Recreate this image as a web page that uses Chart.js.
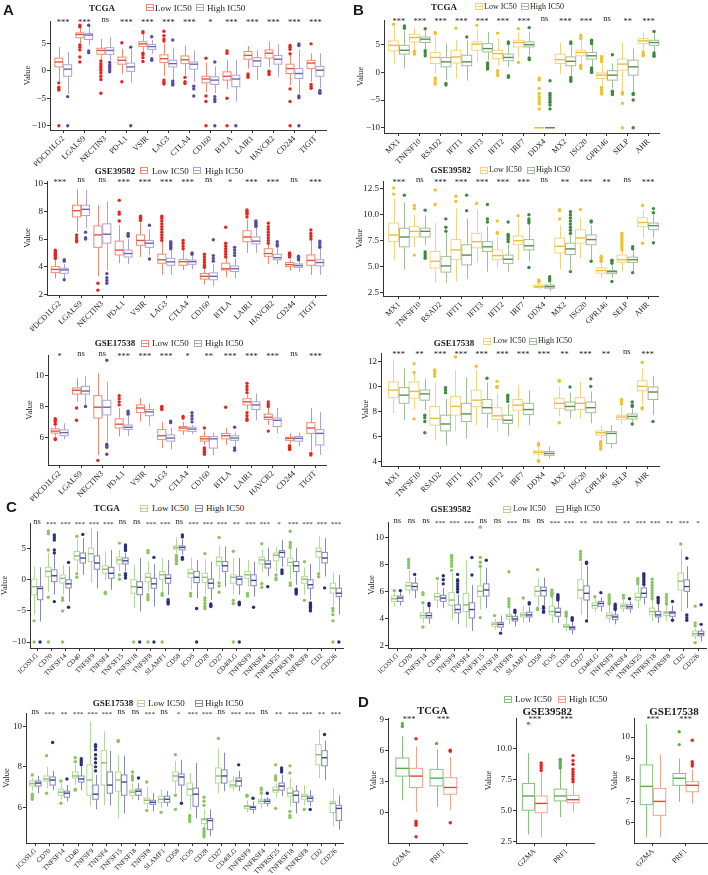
<!DOCTYPE html>
<html><head><meta charset="utf-8">
<script src="https://cdn.jsdelivr.net/npm/chart.js@4.4.1/dist/chart.umd.min.js"></script>
<style>
html,body{margin:0;padding:0;background:#fff;}
body{width:708px;height:875px;overflow:hidden;position:relative;font-family:"Liberation Serif",serif;}
canvas{position:absolute;}
.t{position:absolute;white-space:nowrap;line-height:1;color:#1a1a1a;}
</style></head><body>
<script>
// ---------- categories ----------
const genesA = ['PDCD1LG2','LGALS9','NECTIN3','PD-L1','VSIR','LAG3','CTLA4','CD160','BTLA','LAIR1','HAVCR2','CD244','TIGIT'];
const genesB = ['MX1','TNFSF10','RSAD2','IFIT1','IFIT3','IFIT2','IRF7','DDX4','MX2','ISG20','GPR146','SELP','AHR'];
const genesC = ['ICOSLG','CD70','TNFSF14','CD40','TNFSF9','TNFSF4','TNFSF15','TNFSF18','TNFSF8','SLAMF1','CD58','ICOS','CD28','CD27','CD40LG','TNFRSF9','TNFRSF4','TNFRSF25','TNFRSF18','TNFRSF8','CD2','CD226'];
const genesD = ['GZMA','PRF1'];
const groups = ['Low IC50','High IC50'];

// ---------- significance ----------
const aTcgaStars = ['***','***','ns','***','***','***','***','*','***','***','***','***','***'];
const aG39Stars  = ['***','ns','ns','***','***','***','***','ns','*','***','***','ns','***'];
const aG17Stars  = ['*','ns','ns','***','***','***','*','**','***','***','***','ns','***'];
const bTcgaStars = ['***','***','***','***','***','***','***','ns','***','***','ns','**','***'];
const bG39Stars  = ['***','ns','***','***','***','***','***','ns','**','***','**','ns','***'];
const bG17Stars  = ['***','**','***','***','***','***','***','***','**','***','**','ns','***'];
const cTcgaStars = ['ns','***','***','***','***','***','ns','ns','***','***','ns','***','***','***','**','***','***','*','***','***','***','***'];
const cG39Stars  = ['ns','ns','ns','***','***','***','ns','ns','***','ns','ns','***','***','**','***','***','**','***','***','**','***','*'];
const cG17Stars  = ['ns','***','**','***','***','***','ns','ns','***','ns','*','***','***','ns','***','***','ns','**','***','***','**','***'];
const dStars     = ['***','***'];

// ---------- box stats [min, q1, median, q3, max] and outliers ----------
// Panel A - TCGA
const aTcgaLow = [[-1.9,0.7,1.6,2.3,4.3],[5.0,6.0,6.6,6.9,7.8],[2.1,3.0,3.7,4.1,5.8],[-0.6,1.2,1.9,2.5,4.0],[3.5,4.4,4.9,5.3,6.6],[-1.0,1.5,2.2,2.9,5.0],[-0.8,1.3,2.0,2.7,4.6],[-3.9,-2.2,-1.5,-1.0,1.5],[-3.3,-1.7,-1.0,-0.2,2.0],[0.4,2.1,2.8,3.5,4.5],[0.7,2.3,3.2,3.8,5.3],[-2.6,-0.5,0.4,1.2,3.0],[-2.0,0.4,1.4,1.9,3.2]];
const aTcgaHigh = [[-4.2,-1.0,0.3,1.1,3.5],[4.6,5.7,6.5,6.8,8.0],[1.9,3.0,3.7,4.2,6.2],[-2.1,-0.1,0.7,1.4,3.9],[3.1,3.9,4.4,4.8,5.6],[-1.7,0.7,1.3,1.9,4.2],[-2.0,0.3,1.2,1.6,3.7],[-4.1,-2.5,-1.7,-1.1,0.8],[-5.6,-2.9,-1.5,-0.8,2.0],[-1.7,0.8,1.8,2.4,3.8],[-1.1,1.2,2.1,2.8,4.8],[-4.1,-1.4,-0.5,0.4,3.8],[-3.2,-1.0,0.1,0.8,3.2]];
const aTcgaLowOut = [[-2.2,-3.0,-3.3,-3.5,-10],[8.0,8.3,4.7,4.3,3.8,2.5,1.6],[1.8,1.3,0.9,0.5,0.1,-0.4,-1.0,-1.6,-4.1],[5.1,-2.0],[6.9,7.1,3.2,2.9,2.4,1.7],[7.2,6.4,5.8,5.4,-1.7,-2.1,-2.4],[-1.2,-2.0,-2.3],[2.3,-4.6,-5.6,-10],[3.6,3.2,-5.0,-10],[-0.6,-0.9,-1.2],[-0.1,-0.4,-0.7],[4.6,4.3,3.9,3.1,-3.3,-5.6,-10],[4.9,-2.5,-2.9,-3.2]];
const aTcgaHighOut = [[-4.7,-10],[8.3,3.6,3.3],[1.5,1.0,0.6,0.2,-0.2],[4.3,-10],[6.2,2.2,1.9],[5.6,-1.9,-2.3,-2.6],[-2.8,-3.3,-4.6],[1.6,-4.7,-5.2,-5.6,-10],[-10],[],[],[4.9,4.6,-4.6,-4.9,-10],[-3.6,-3.9,-4.1]];

// Panel A - GSE39582
const aG39Low = [[3.15,3.57,3.8,4.0,4.5],[6.5,7.6,8.05,8.45,9.6],[3.3,5.4,6.3,6.95,8.45],[4.25,4.85,5.2,5.85,7.0],[4.7,5.55,5.9,6.3,7.2],[3.4,4.25,4.5,4.9,5.8],[3.75,4.1,4.36,4.53,5.2],[2.7,3.1,3.3,3.5,3.9],[3.25,3.75,3.85,4.25,4.6],[5.0,5.8,6.15,6.6,7.4],[4.2,4.75,4.95,5.3,5.6],[3.7,4.0,4.15,4.3,4.5],[3.4,4.1,4.45,4.85,5.9]];
const aG39High = [[3.15,3.52,3.76,3.88,4.2],[6.8,7.7,8.15,8.45,9.55],[3.75,5.7,6.35,7.1,8.7],[4.2,4.7,4.95,5.2,6.0],[4.85,5.4,5.7,5.9,6.7],[3.4,4.1,4.35,4.6,5.2],[3.8,4.17,4.36,4.48,4.8],[2.6,3.05,3.3,3.55,4.2],[3.15,3.65,3.85,4.05,4.6],[5.0,5.65,5.85,6.15,6.8],[4.2,4.5,4.65,4.9,5.4],[3.65,3.95,4.08,4.2,4.4],[3.4,4.05,4.3,4.5,5.3]];
const aG39LowOut = [[4.6,4.7,4.8,4.9,5.0,5.1,5.2],[6.3,6.1,5.9,5.8],[2.8,2.3],[7.3,7.8,7.95,8.8],[7.35,7.5,7.65],[5.9,6.1,6.3,6.5,6.7,6.9,7.1,7.3,7.5,7.65],[5.3,5.5,5.7,5.9],[3.95,4.1,4.3,4.5,4.7,4.9],[4.7,4.9,5.1,5.3,5.5,5.7,6.85],[7.6,7.8,7.9,8.0,8.1],[5.7,5.9,6.1,6.3,6.5,6.7,6.9,7.15],[4.7,4.8,4.9,5.0],[6.0,6.2,6.4,6.65]];
const aG39HighOut = [[4.4,4.5,3.05],[6.5,6.1,6.0],[3.5,3.2,3.0,2.8],[6.2,6.3,6.4],[7.0,4.55],[5.3,5.4,5.5,5.6,5.7,5.8],[4.9,5.0],[4.4,4.6,4.8,5.95],[4.8,5.0,5.2,5.4],[6.9,7.0,7.1,7.2,7.3],[5.5,5.6,5.8],[4.5,4.6,4.75],[5.4,5.5,5.7,5.85]];

// Panel A - GSE17538
const aG17Low = [[6.05,6.27,6.4,6.55,6.75],[8.3,8.8,9.05,9.2,9.85],[4.85,7.25,7.95,8.7,10.15],[6.05,6.6,6.85,7.2,7.9],[7.0,7.6,7.9,8.1,8.55],[5.3,5.85,6.1,6.5,7.0],[6.15,6.42,6.6,6.7,7.0],[5.5,5.75,5.9,6.05,6.4],[5.5,5.9,6.1,6.25,6.6],[7.8,8.1,8.3,8.5,8.8],[6.8,7.15,7.3,7.5,7.9],[5.6,5.8,5.93,6.0,6.25],[5.1,6.25,6.6,6.95,7.9]];
const aG17High = [[5.88,6.1,6.3,6.48,6.9],[8.1,8.8,9.0,9.3,9.95],[5.7,7.45,7.95,8.4,9.6],[6.1,6.5,6.65,6.8,7.4],[6.75,7.4,7.65,7.8,8.2],[5.2,5.75,5.95,6.15,6.6],[6.2,6.38,6.53,6.65,6.8],[4.85,5.3,5.9,6.05,6.3],[5.4,5.8,5.95,6.1,6.3],[7.1,7.8,8.1,8.3,8.85],[6.25,6.7,7.1,7.25,7.9],[5.4,5.75,5.93,6.05,6.3],[4.85,5.5,6.25,6.5,7.65]];
const aG17LowOut = [[6.85,7.0,7.1,7.2,5.9,5.85],[7.9,7.1],[4.5],[8.1,8.3,8.5,8.7],[],[7.8,7.9,8.0],[7.25,7.35],[6.6,5.3,5.2,5.1,5.0,4.9],[7.95],[8.9,9.1,9.3,9.5,7.6,7.4,7.2,7.1],[8.0,8.15,8.3,6.4],[5.45,5.35,5.25,5.2],[4.95,4.85]];
const aG17HighOut = [[],[8.0],[11.0,5.55,5.45,5.35,4.9],[7.5,7.6,7.7],[],[6.95,7.05],[7.0,7.2,7.4,7.6],[],[6.65,5.3,5.15],[],[],[],[]];

// Panel B - TCGA
const bTcgaLow = [[1.6,3.9,4.9,5.7,8.4],[4.0,5.5,6.3,6.9,8.1],[-0.2,1.6,2.7,3.6,6.6],[-1.1,1.7,2.8,4.0,5.8],[1.9,4.0,5.1,5.5,8.0],[1.3,2.5,3.4,4.0,6.2],[2.8,4.6,5.4,5.8,7.2],[-10,-10,-10,-10,-10],[-0.3,1.6,2.3,3.3,5.4],[1.6,3.0,3.6,4.0,5.9],[-2.3,-1.1,-0.5,-0.1,1.5],[-3.2,0.4,1.5,2.4,5.4],[4.0,5.2,5.7,6.1,7.4]];
const bTcgaHigh = [[0.7,3.3,4.0,4.9,7.6],[4.2,5.4,6.0,6.4,7.5],[-1.4,1.0,1.9,2.7,5.2],[-1.5,1.2,1.9,3.1,5.8],[2.2,3.7,4.3,5.2,7.3],[1.0,2.1,2.7,3.3,4.9],[3.1,4.6,5.0,5.5,7.2],[-10,-10,-10,-10,-10],[-0.8,1.2,2.0,2.8,4.8],[1.0,2.4,3.0,3.6,5.0],[-2.9,-1.4,-0.5,0.3,1.6],[-3.5,-0.5,1.0,2.2,4.3],[3.7,4.9,5.4,5.8,7.0]];
const bTcgaLowOut = [[8.7],[3.8,3.5,3.3],[7.2,7.0,-1.0,-1.4,-1.9,-2.1],[8.0],[8.5],[7.1,0.3,-0.2,-0.6],[7.9,1.8],[-1.0,-1.4,-2.9,-3.8,-4.4,-4.8,-5.3,-5.7,-6.6],[],[6.7,6.4,6.1,1.3,1.0,0.7],[2.9,2.6,2.3,1.9,-2.7,-3.1,-3.5,-3.9],[-3.6,-3.9,-5.6,-10],[3.7,3.3,3.0]];
const bTcgaHighOut = [[8.4,8.0],[7.9,3.9,3.5,3.0],[-2.0,-2.3],[6.4],[1.7,1.3,0.9,0.6],[5.5,5.2,-0.6,-0.9],[8.1,2.6,2.3],[-1.5,-3.8,-4.2,-4.6,-5.0,-5.4,-5.9,-6.6],[5.5,5.2,-0.9,-1.3,-1.6],[5.8,5.5,5.2,0.8,0.5,0.2,0.0],[3.2,-3.4,-3.7,-4.0],[-3.8,-4.0,-5.0,-10],[7.4,3.5,3.2,2.9]];

// Panel B - GSE39582
const bG39Low = [[5.65,7.4,8.05,9.2,11.6],[6.9,7.85,8.4,8.85,10.0],[3.4,4.85,5.5,6.45,9.2],[3.55,5.65,6.6,7.6,10.6],[5.4,6.8,7.4,8.2,10.5],[4.85,5.65,6.05,6.6,7.9],[5.6,7.1,7.5,7.95,9.5],[2.75,2.95,3.05,3.2,3.3],[4.7,6.3,6.95,7.75,9.0],[5.8,7.25,7.75,8.55,9.7],[3.9,4.35,4.6,4.85,5.4],[4.5,5.4,5.65,6.1,6.5],[7.75,8.85,9.25,9.7,10.4]];
const bG39High = [[4.7,6.9,7.85,8.7,11.2],[7.1,7.85,8.4,8.7,9.9],[3.4,4.45,5.05,5.95,8.2],[3.8,5.15,6.1,7.1,9.6],[4.5,6.45,6.9,7.4,8.9],[4.5,5.3,5.7,6.1,7.2],[5.5,6.6,7.0,7.6,9.0],[2.6,2.9,3.05,3.2,3.4],[4.7,6.15,6.7,7.25,8.0],[5.65,7.1,7.6,8.05,9.0],[3.9,4.3,4.5,4.6,5.1],[4.5,5.4,5.65,5.9,6.5],[7.75,8.55,8.95,9.2,10.0]];
const bG39LowOut = [[12.0,12.6],[10.6,10.9,6.1],[11.0,12.4],[11.3,11.8],[11.1],[8.2,8.3,9.4],[9.9],[3.5,3.6,3.7],[9.6,10.4,10.5],[10.5],[5.5,5.7,5.9,6.0],[6.6,6.8,7.0,7.2,7.4,7.6,7.8,8.0,8.2],[10.9,7.25]];
const bG39HighOut = [[11.9],[10.45,6.4,6.2,6.0,5.8],[8.4,8.8,9.6],[10.4,11.9],[9.3,9.6,11.0],[7.4,7.6,7.8,8.0,8.1,9.3],[9.2,9.4,9.6,10.0,4.9],[3.6,3.8,4.0],[8.2,8.5,8.8,9.1,9.4,9.7,10.0,10.3,4.5],[9.3,9.4,5.5],[5.3,5.5,5.6,3.55],[6.7,6.9,4.4],[10.2,10.6,7.3]];

// Panel B - GSE17538
const bG17Low = [[7.85,9.1,9.7,10.35,12.1],[8.15,9.05,9.6,10.35,11.0],[5.7,6.9,7.45,8.4,10.3],[6.4,7.7,8.4,9.2,11.3],[6.9,8.4,8.9,9.7,11.3],[6.4,7.35,7.65,8.3,9.4],[6.75,8.1,8.5,8.95,10.1],[4.4,4.6,4.75,4.85,5.2],[7.6,8.25,8.65,9.05,10.0],[7.45,8.15,8.65,9.1,10.35],[5.85,6.1,6.3,6.45,6.9],[7.0,7.35,7.55,7.7,8.4],[8.5,9.65,10.0,10.45,11.4]];
const bG17High = [[7.3,8.65,9.3,9.9,11.45],[8.1,8.9,9.4,9.7,10.6],[5.3,6.45,7.0,7.7,9.0],[5.85,7.2,7.8,8.65,10.7],[6.7,7.85,8.3,8.95,10.3],[6.0,7.05,7.3,7.7,8.6],[6.9,7.75,8.15,8.65,9.7],[4.25,4.5,4.65,4.8,5.2],[7.45,8.1,8.4,8.75,9.5],[7.05,7.9,8.3,8.75,9.6],[5.05,5.45,6.25,6.4,6.9],[7.1,7.4,7.6,7.8,8.2],[7.7,8.95,9.55,9.95,10.8]];
const bG17LowOut = [[],[11.1,11.8,7.4],[10.8,11.0,11.2,11.3],[12.35],[11.6],[9.9,10.0,10.4],[],[5.3,5.45,4.1,4.0],[10.4,10.5,7.1],[],[5.6,5.5,5.4,5.3,5.2,5.0],[8.6,8.8,8.95],[11.9,8.3,8.2]];
const bG17HighOut = [[],[7.7,7.5,7.2,6.3],[9.5,9.7,9.9],[],[10.65],[8.8,9.0,9.15,9.3],[],[],[9.95],[10.0,10.6],[],[8.4,8.5,8.75,7.0],[7.2]];

// Panel C - TCGA
const cTcgaLow = [[-5.6,-2.4,-1.1,0.1,2.1],[-1.9,0.5,1.35,2.0,4.3],[-2.4,-0.5,0.25,0.8,2.4],[1.35,3.2,3.85,4.55,6.6],[-0.5,2.95,4.2,5.1,8.3],[0.0,1.05,1.7,2.25,4.55],[1.35,2.55,3.2,3.65,4.8],[-4.55,-2.15,-1.1,0.0,2.4],[-1.9,-0.3,0.4,1.05,3.0],[-1.9,0.1,0.8,1.35,3.5],[4.3,4.95,5.2,5.45,6.8],[-1.6,0.35,1.05,1.7,3.5],[-2.4,-0.45,0.4,1.05,3.3],[0.0,2.25,2.95,3.65,5.5],[-2.4,-0.55,0.4,0.8,3.5],[-1.1,0.25,0.8,1.35,3.2],[1.2,2.55,3.2,3.65,4.9],[1.35,3.05,3.95,4.3,5.35],[0.0,2.25,2.8,3.5,5.0],[-2.4,-0.55,0.1,0.55,2.0],[1.35,3.65,4.55,5.1,7.0],[-4.3,-2.15,-1.35,-0.55,1.2]];
const cTcgaHigh = [[-6.7,-3.2,-1.4,-1.1,2.0],[-2.4,-0.3,0.65,1.6,4.0],[-3.5,-1.3,-0.65,0.0,2.2],[0.8,2.7,3.5,4.3,6.7],[-1.35,1.7,2.7,3.85,7.8],[-1.6,0.25,1.05,2.0,4.8],[1.35,2.55,3.05,3.5,4.3],[-5.1,-2.4,-1.2,-0.3,3.5],[-4.3,-1.35,-0.65,0.25,2.5],[-2.4,-0.55,0.25,0.8,3.2],[4.0,4.8,5.2,5.45,6.5],[-2.95,-0.45,0.4,1.35,3.2],[-3.2,-1.35,-0.55,0.1,2.9],[-1.1,1.35,2.25,2.95,5.35],[-2.4,-0.8,0.1,0.55,3.5],[-2.7,-0.95,-0.1,0.8,2.9],[0.55,1.9,2.55,3.05,5.1],[2.05,3.65,4.4,4.7,6.4],[-0.8,1.35,2.25,2.95,5.1],[-3.2,-1.35,-0.8,0.0,2.55],[0.55,2.7,3.5,4.4,6.7],[-5.6,-2.7,-2.15,-1.35,0.8]];
const cTcgaLowOut = [[-6.6,-10],[7.8,7.4,4.8,-2.8,-10],[-2.9,-3.3,-5.0,-10],[7.0,1.0,0.4],[],[-2.0,-2.2],[5.9,0.8,0.1],[-10],[4.7,4.4,-2.4,-2.8,-3.2,-10],[-2.2,-2.5,-10],[3.9,3.6,3.3,3.0,2.6],[-2.2,-2.6],[4.2,-2.9,-3.3,-3.8,-4.3,-4.6],[6.8,-0.5,-1.0,-2.0],[4.6,-3.3,-3.8,-10],[-2.2,-2.6],[5.8,-0.6,-1.2],[0.8,0.3,0.0],[7.8,6.0,5.6,5.2,-0.5,-0.9],[2.9,-3.3],[1.0,0.5],[-4.6,-5.0,-5.6,-6.6,-10]];
const cTcgaHighOut = [[-10],[7.2,6.8,6.4,4.8,4.3,-3.5],[2.8,-4.4],[7.3],[],[],[5.6,5.3,5.0,4.7,1.0,0.7,0.3],[-10],[3.6,-10],[-3.2,-3.5,-3.7,-3.9],[7.2,6.9,3.6,3.3],[-4.6,-10],[-3.9,-4.1,-4.3],[],[-3.6,-3.8,-4.0,-10],[-4.4],[-1.1],[1.6,1.3,1.0],[-1.5,-1.7,-1.9,-2.1,-2.3],[-3.7,-3.9,-4.1,-4.4,-4.7,-5.0],[-1.3],[-10]];

// Panel C - GSE39582
const cG39Low = [[4.9,5.3,5.5,5.7,5.95],[5.8,6.15,6.45,6.7,7.6],[3.7,4.07,4.25,4.45,5.0],[4.8,5.4,5.65,5.9,6.8],[3.95,5.0,5.4,5.95,7.4],[3.35,4.55,5.05,5.9,8.35],[4.7,5.65,6.05,6.45,7.8],[3.2,3.45,3.62,3.75,4.0],[3.6,4.0,4.2,4.35,4.8],[3.7,4.15,4.3,4.45,5.0],[4.95,5.7,6.05,6.4,7.0],[3.7,4.3,4.55,4.95,5.6],[3.1,3.35,3.45,3.6,4.1],[4.3,5.55,6.15,6.9,8.2],[4.5,4.8,5.0,5.2,5.5],[3.7,4.07,4.25,4.45,5.0],[4.5,4.8,4.95,5.1,5.4],[4.8,5.4,5.6,5.9,6.5],[3.85,4.3,4.55,4.8,5.4],[3.85,4.25,4.45,4.55,5.0],[4.55,6.15,6.8,7.4,9.2],[2.5,2.75,2.9,3.1,3.3]];
const cG39High = [[5.0,5.3,5.55,5.7,6.0],[5.55,6.15,6.4,6.65,7.1],[3.65,4.07,4.25,4.45,4.9],[4.8,5.3,5.55,5.75,6.3],[3.6,4.45,4.7,5.05,5.8],[3.1,4.07,4.7,5.2,6.5],[4.8,5.7,6.15,6.6,7.8],[3.1,3.4,3.6,3.75,4.25],[3.45,3.85,4.0,4.2,4.4],[3.75,4.15,4.3,4.5,4.9],[5.05,5.7,6.1,6.35,7.05],[3.7,4.2,4.5,4.8,5.3],[2.85,3.2,3.35,3.45,3.8],[3.95,5.4,5.9,6.45,7.9],[4.55,4.95,5.15,5.3,5.6],[3.6,3.95,4.15,4.3,4.6],[4.45,4.75,4.9,5.05,5.3],[5.1,5.6,5.9,6.3,6.45],[3.7,4.15,4.3,4.55,5.1],[4.0,4.2,4.45,4.55,5.0],[4.8,6.05,6.4,6.9,7.9],[2.35,2.75,2.9,3.1,3.3]];
const cG39LowOut = [[6.1],[7.8,8.0,8.2,8.4],[5.2,5.8,5.95,3.4],[7.0],[7.6,7.9,8.1,8.3,8.5,8.6,8.7],[],[7.9,8.2,8.55,10.8,4.1],[4.25],[4.9,5.1,5.3,5.5,7.5],[5.55],[7.65,4.8,4.7],[5.7,5.8,5.9,6.0,6.15],[4.2,4.35,4.5],[8.4,8.6,8.8,9.0],[5.65],[5.1,5.2,5.35,5.5,5.65,5.8],[5.55,5.75],[6.6,6.75,6.9,7.0],[5.5,5.7,5.9,6.1,6.3,6.5,6.7,6.95],[5.1,5.2,5.4,5.6,5.8],[9.55],[3.5,3.7,4.95,2.25]];
const cG39HighOut = [[6.1],[7.3],[5.0,5.15],[6.6,6.9,7.2],[6.0,6.2,6.4,6.6,6.8,6.9,7.3],[7.25,8.55],[8.35],[2.95],[4.5,4.65],[5.1,5.2],[4.9,4.8,4.6,4.5],[5.4,5.5,5.6,5.7,5.8],[3.9,4.0,4.1],[8.1,8.2,3.85],[5.95],[4.7,4.8,4.9,5.0,5.1],[5.5],[6.55,6.7,6.85,7.0,7.15,7.25,7.35],[5.2,5.35,5.5,5.6],[5.3,3.9],[8.5,4.3,4.1,3.9],[3.6,5.05]];

// Panel C - GSE17538
const cG17Low = [[6.8,7.05,7.17,7.3,7.45],[6.95,7.3,7.4,7.55,8.0],[6.4,6.6,6.75,6.9,7.2],[7.1,7.45,7.55,7.75,8.1],[6.1,6.6,7.35,8.1,10.25],[6.1,7.1,8.2,8.8,9.75],[5.45,6.8,7.35,7.75,8.6],[6.4,6.6,6.75,6.85,7.2],[5.95,6.2,6.35,6.45,7.0],[5.95,6.25,6.4,6.55,6.9],[6.7,7.3,7.55,7.75,8.3],[5.9,6.6,6.9,7.2,7.7],[5.05,5.2,5.4,5.45,5.9],[6.7,7.2,7.55,7.95,8.9],[6.8,7.0,7.1,7.3,7.55],[5.75,5.95,6.05,6.1,6.35],[5.95,6.2,6.3,6.4,6.6],[6.45,6.75,6.85,7.0,7.2],[6.05,6.55,6.7,6.95,7.45],[6.1,6.4,6.55,6.65,7.1],[7.45,8.1,8.6,9.1,9.85],[5.05,5.75,6.2,6.3,6.95]];
const cG17High = [[6.7,7.05,7.2,7.3,7.55],[6.85,7.1,7.35,7.5,7.8],[6.3,6.5,6.7,6.8,7.1],[6.85,7.25,7.4,7.55,8.0],[5.9,6.4,6.65,7.1,7.6],[6.1,6.7,7.1,7.75,8.8],[5.7,6.6,7.25,7.6,8.55],[6.35,6.6,6.8,6.9,7.2],[5.8,6.15,6.25,6.35,6.7],[6.05,6.25,6.4,6.55,6.8],[6.3,7.1,7.5,7.65,8.35],[5.45,6.05,6.65,6.95,8.2],[4.6,4.9,5.35,5.45,5.9],[6.8,7.2,7.55,7.85,8.7],[6.8,7.05,7.3,7.45,7.8],[5.7,5.9,6.0,6.05,6.3],[6.05,6.2,6.3,6.4,6.5],[6.55,6.85,7.05,7.2,7.6],[5.7,6.25,6.6,6.8,7.1],[6.05,6.3,6.45,6.55,6.85],[7.35,8.05,8.45,8.8,9.3],[4.9,5.35,5.95,6.1,6.6]];
const cG17LowOut = [[7.6,6.65,6.55,6.45,6.4],[8.55,6.7],[7.3,6.2],[8.25,8.45,6.9,6.85],[],[],[9.25,9.3],[7.35,7.45,7.55,7.75],[7.25,5.85],[5.75],[8.6,6.6,5.9],[5.6,5.5,5.4,5.3],[6.1,6.3,6.5,4.95,4.85,4.75,4.65,4.55],[9.4],[],[6.55,6.6],[6.7,6.85,6.95],[7.35,7.45,7.55,8.1,5.95],[7.7,8.05,5.8,5.6,5.5],[5.9],[],[]];
const cG17HighOut = [[],[9.2],[7.4],[8.1,8.2,8.3,8.4],[7.8,8.0,8.2,8.4,8.6,8.85,9.0,9.1],[],[],[7.45],[],[],[6.2],[],[],[],[8.1],[6.45],[6.7],[7.75,7.85,7.95],[],[5.9],[9.6],[]];

// Panel D
const dTcgaLow = [[1.2,3.55,4.3,5.3,7.45],[0.6,2.6,3.35,4.2,6.1]];
const dTcgaHigh = [[0.1,2.45,3.55,4.3,6.4],[0.25,1.8,2.45,3.4,5.4]];
const dTcgaLowOut = [[8.35,8.6],[6.7]];
const dTcgaHighOut = [[7.15,-0.8,-1.0,-1.2,-2.3],[6.05,5.95,-0.95]];
const dG39Low = [[3.05,5.0,6.15,7.15,9.6],[4.45,5.75,6.15,6.7,8.3]];
const dG39High = [[2.85,4.8,5.55,6.15,8.0],[4.85,5.6,5.85,6.2,7.2]];
const dG39LowOut = [[12.0],[8.4,8.6,8.8,9.0,9.1]];
const dG39HighOut = [[8.2,8.4,8.6,8.8],[7.3,7.5,7.7,7.9,8.1,8.3,8.7,9.0,9.4]];
const dG17Low = [[5.35,6.85,7.7,8.7,10.6],[6.98,7.75,8.08,8.3,9.0]];
const dG17High = [[5.35,6.35,7.0,7.6,9.2],[6.9,7.45,7.75,7.92,8.5]];
const dG17LowOut = [[],[9.65,10.25]];
const dG17HighOut = [[],[8.65,8.75,8.85,9.85]];

// ---------- y tick values ----------
const ticksTcgaAB = [-10,-5,0,5];
const ticksAG39 = [2,4,6,8,10];
const ticksAG17 = [6,8,10];
const ticksBG39 = [2.5,5,7.5,10,12.5];
const ticksBG17 = [4,6,8,10,12];
const ticksCG39 = [2,4,6,8,10];
const ticksCG17 = [6,8,10];
const ticksDTcga = [0,3,6,9];
const ticksDG39 = [2.5,5,7.5,10];
const ticksDG17 = [6,7,8,9,10];

// ---------- styles ----------
const SERIF = '"Liberation Serif", "Times New Roman", serif';
Chart.defaults.font.family = SERIF;
const schA = {lowBox:'#EF8B72', lowMed:'#E4513B', lowDot:'#E3261F', highBox:'#A9A4D0', highMed:'#6D63AD', highDot:'#5A4B9D'};
const schB = {lowBox:'#F3D47E', lowMed:'#EDBE35', lowDot:'#F0C12E', highBox:'#9FBF96', highMed:'#5A8E4F', highDot:'#3C8A3A'};
const schC = {lowBox:'#B1DA98', lowMed:'#86C264', lowDot:'#89C662', highBox:'#8688BE', highMed:'#3E4187', highDot:'#2C2E7C'};
const schD = {lowBox:'#86C37A', lowMed:'#5DAA4D', lowDot:'#5BAE4A', highBox:'#F3A38F', highMed:'#E8462F', highDot:'#E2261F'};

const panels = [
  {genes:genesA, stars:aTcgaStars, low:aTcgaLow, high:aTcgaHigh, lowOut:aTcgaLowOut, highOut:aTcgaHighOut, sc:schA, area:[50,21,326,130], xr:[-0.63,12.5], yr:[-10.78,9.06], yt:ticksTcgaAB, dec:0, vx:28.3, xfs:8, xh:36, off:0.21, half:0.19, sfs:8.5},
  {genes:genesA, stars:aG39Stars, low:aG39Low, high:aG39High, lowOut:aG39LowOut, highOut:aG39HighOut, sc:schA, area:[47,181,326,295], xr:[-0.6,12.5], yr:[1.95,10.2], yt:ticksAG39, dec:0, vx:28, xfs:8, xh:36, off:0.21, half:0.19, sfs:8.5},
  {genes:genesA, stars:aG17Stars, low:aG17Low, high:aG17High, lowOut:aG17LowOut, highOut:aG17HighOut, sc:schA, area:[48,355,326,465], xr:[-0.55,12.5], yr:[4.2,11.34], yt:ticksAG17, dec:0, vx:30, xfs:8, xh:36, off:0.21, half:0.19, sfs:8.5},
  {genes:genesB, stars:bTcgaStars, low:bTcgaLow, high:bTcgaHigh, lowOut:bTcgaLowOut, highOut:bTcgaHighOut, sc:schB, area:[384,20,659,133], xr:[-0.72,12.5], yr:[-10.96,9.47], yt:ticksTcgaAB, dec:0, vx:360.7, xfs:8, xh:36, off:0.26, half:0.235, sfs:8.5},
  {genes:genesB, stars:bG39Stars, low:bG39Low, high:bG39High, lowOut:bG39LowOut, highOut:bG39HighOut, sc:schB, area:[383,181,658,296], xr:[-0.77,12.48], yr:[2.14,13.27], yt:ticksBG39, dec:1, vx:360, xfs:8, xh:36, off:0.26, half:0.235, sfs:8.5},
  {genes:genesB, stars:bG17Stars, low:bG17Low, high:bG17High, lowOut:bG17LowOut, highOut:bG17HighOut, sc:schB, area:[381,353,659,466], xr:[-0.85,12.55], yr:[3.65,12.66], yt:ticksBG17, dec:0, vx:365.7, xfs:8, xh:36, off:0.26, half:0.235, sfs:8.5},
  {genes:genesC, stars:cTcgaStars, low:cTcgaLow, high:cTcgaHigh, lowOut:cTcgaLowOut, highOut:cTcgaHighOut, sc:schC, area:[30,523,343,648], xr:[-0.5,21.5], yr:[-10.96,9.13], yt:ticksTcgaAB, dec:0, vx:5.5, xfs:7, xh:32, off:0.21, half:0.19, sfs:7},
  {genes:genesC, stars:cG39Stars, low:cG39Low, high:cG39High, lowOut:cG39LowOut, highOut:cG39HighOut, sc:schC, area:[388,522,706,648], xr:[-0.65,21.55], yr:[1.85,11.18], yt:ticksCG39, dec:0, vx:372.3, xfs:7, xh:32, off:0.21, half:0.19, sfs:7},
  {genes:genesC, stars:cG17Stars, low:cG17Low, high:cG17High, lowOut:cG17LowOut, highOut:cG17HighOut, sc:schC, area:[26,713,343,843], xr:[-0.65,21.5], yr:[4.24,10.66], yt:ticksCG17, dec:0, vx:6.7, xfs:7, xh:30, off:0.21, half:0.19, sfs:7},
  {genes:genesD, stars:dStars, low:dTcgaLow, high:dTcgaHigh, lowOut:dTcgaLowOut, highOut:dTcgaHighOut, sc:schD, area:[388,718,467,843], xr:[-0.62,1.69], yr:[-2.91,9.16], yt:ticksDTcga, dec:0, vx:374, xfs:7.5, xh:28, off:0.2, half:0.19, sfs:8.5},
  {genes:genesD, stars:dStars, low:dG39Low, high:dG39High, lowOut:dG39LowOut, highOut:dG39HighOut, sc:schD, area:[516,718,594,843], xr:[-0.59,1.86], yr:[2.36,12.43], yt:ticksDG39, dec:1, vx:489, xfs:7.5, xh:28, off:0.2, half:0.19, sfs:8.5},
  {genes:genesD, stars:dStars, low:dG17Low, high:dG17High, lowOut:dG17LowOut, highOut:dG17HighOut, sc:schD, area:[634,718,707,843], xr:[-0.58,1.65], yr:[5.06,10.89], yt:ticksDG17, dec:0, vx:614.7, xfs:7.5, xh:28, off:0.2, half:0.19, sfs:8.5}
];

function fmt(v, dec) {
  const s = Math.abs(v).toFixed(dec);
  return v < 0 ? '\u2212' + s : s;
}

function boxPlugin(p) {
  return {
    id: 'boxes',
    beforeDatasetsDraw(chart) {
      const {ctx, scales: {x, y}} = chart;
      ctx.save();
      const sets = [[p.low, -p.off, p.sc.lowBox, p.sc.lowMed], [p.high, p.off, p.sc.highBox, p.sc.highMed]];
      sets.forEach(([stats, off, col, med]) => {
        stats.forEach((s, i) => {
          const cx = Math.round(x.getPixelForValue(i + off)) + 0.5;
          const xa = x.getPixelForValue(i + off - p.half);
          const xb = x.getPixelForValue(i + off + p.half);
          const [y0, y1, y2, y3, y4] = s.map(v => y.getPixelForValue(v));
          ctx.strokeStyle = col; ctx.lineWidth = 1;
          ctx.beginPath();
          ctx.moveTo(cx, y0); ctx.lineTo(cx, y1);
          ctx.moveTo(cx, y3); ctx.lineTo(cx, y4);
          ctx.stroke();
          ctx.fillStyle = '#ffffff';
          ctx.fillRect(xa, y3, xb - xa, y1 - y3);
          ctx.strokeRect(xa, y3, xb - xa, y1 - y3);
          ctx.strokeStyle = med; ctx.lineWidth = 1.4;
          ctx.beginPath(); ctx.moveTo(xa, y2); ctx.lineTo(xb, y2); ctx.stroke();
        });
      });
      ctx.restore();
    }
  };
}

function starPlugin(p) {
  return {
    id: 'stars',
    afterDraw(chart) {
      const {ctx, scales: {x}, chartArea} = chart;
      ctx.save();
      ctx.fillStyle = '#222';
      ctx.textAlign = 'center';
      ctx.textBaseline = 'middle';
      p.stars.forEach((s, i) => {
        const isStar = s[0] === '*';
        ctx.font = (isStar ? p.sfs : 8.5) + 'px ' + SERIF;
        const px = x.getPixelForValue(i);
        const py = chartArea.top + (isStar ? 1.5 : -1.5);
        ctx.fillText(s, px, py);
      });
      ctx.restore();
    }
  };
}

function makeChart(p) {
  const [L, T, R, B] = p.area;
  const fsV = 8.5;
  const left = Math.round(p.vx - fsV * 0.6);
  const yw = L - left;
  const pt = 10, pr = 8;
  const w = Math.round(yw + (R - L) + pr);
  const h = Math.round(pt + (B - T) + p.xh);
  const c = document.createElement('canvas');
  c.width = w; c.height = h;
  c.style.left = left + 'px'; c.style.top = (T - pt) + 'px';
  c.style.width = w + 'px'; c.style.height = h + 'px';
  document.body.appendChild(c);
  const toPts = (arr, off) => arr.flatMap((vals, i) => vals.map(v => ({x: i + off, y: v})));
  const axisGrid = {display: true, drawOnChartArea: false, drawTicks: true, tickLength: 3, color: '#333', lineWidth: 1};
  new Chart(c, {
    type: 'scatter',
    data: {
      datasets: [
        {label: groups[0], data: toPts(p.lowOut, -p.off), pointRadius: 1.7, pointBackgroundColor: p.sc.lowDot, pointBorderWidth: 0, pointHoverRadius: 0},
        {label: groups[1], data: toPts(p.highOut, p.off), pointRadius: 1.7, pointBackgroundColor: p.sc.highDot, pointBorderWidth: 0, pointHoverRadius: 0}
      ]
    },
    options: {
      responsive: false, animation: false, devicePixelRatio: 1, events: [],
      layout: {padding: {top: pt, right: pr, left: 0, bottom: 0}},
      plugins: {legend: {display: false}, tooltip: {enabled: false}, title: {display: false}},
      scales: {
        x: {
          type: 'linear', position: 'bottom', bounds: 'data', min: p.xr[0], max: p.xr[1],
          afterBuildTicks: s => { s.ticks = p.genes.map((g, i) => ({value: i})); },
          afterFit: s => { s.height = p.xh; },
          ticks: {autoSkip: false, minRotation: 45, maxRotation: 45, padding: 1, color: '#222',
                  font: {family: SERIF, size: p.xfs}, callback: v => p.genes[v]},
          grid: axisGrid,
          border: {display: true, color: '#333', width: 1}
        },
        y: {
          type: 'linear', bounds: 'data', min: p.yr[0], max: p.yr[1],
          afterBuildTicks: s => { s.ticks = p.yt.map(v => ({value: v})); },
          afterFit: s => { s.width = yw; },
          ticks: {padding: 1, color: '#222', font: {family: SERIF, size: 9}, callback: v => fmt(v, p.dec)},
          grid: axisGrid,
          border: {display: true, color: '#333', width: 1},
          title: {display: true, text: 'Value', color: '#222', padding: 0, font: {family: SERIF, size: fsV}}
        }
      }
    },
    plugins: [boxPlugin(p), starPlugin(p)]
  });
}

panels.forEach(makeChart);

// ---------- text: titles, legends, panel letters ----------
function addText(txt, x, y, fs, opts) {
  opts = opts || {};
  const d = document.createElement('div');
  d.className = 't';
  d.textContent = txt;
  d.style.fontSize = fs + 'px';
  d.style.left = x + 'px';
  d.style.top = y + 'px';
  if (opts.bold) d.style.fontWeight = 'bold';
  if (opts.family) d.style.fontFamily = opts.family;
  d.style.transform = opts.center ? 'translate(-50%,-50%)' : 'translate(0,-50%)';
  document.body.appendChild(d);
}
function addIcon(cx, cy, color) {
  const d = document.createElement('div');
  d.style.cssText = 'position:absolute;box-sizing:border-box;left:' + (cx - 4) + 'px;top:' + (cy - 3.5) +
    'px;width:8px;height:7px;border:1px solid ' + color + ';background:linear-gradient(' + color + ',' + color + ') center/100% 1px no-repeat;';
  document.body.appendChild(d);
}
const titles = [
  ['TCGA',102,7.5,9],['GSE39582',115,170.7,9],['GSE17538',115,343.3,9],
  ['TCGA',444,6.7,9],['GSE39582',450.7,170,9],['GSE17538',454,342.7,9],
  ['TCGA',106.7,508.3,9],['GSE39582',450.7,509,9],['GSE17538',113,703.3,9],
  ['TCGA',432.3,710.7,10.5],['GSE39582',547.3,711,11],['GSE17538',674,711,11]
];
titles.forEach(t => addText(t[0], t[1], t[2], t[3], {bold: true, center: true}));

const legends = [
  [7.5,150,155,200,207,9,schA],[170.7,144,152,197,205,9,schA],[343.3,145,152,198,205,9,schA],
  [6.7,479,484,525,530,8,schB],[170,484,489,531,536,8,schB],[341,487,493,533,538,8,schB],
  [508.3,144,152,199,206,9,schC],[509,507,513,560,566,8,schC],[703.3,141,148,199,205,9,schC],
  [699.3,508,515,562,569,9,schD]
];
legends.forEach(l => {
  const [y, i1, t1, i2, t2, fs, sc] = l;
  addIcon(i1, y, sc.lowBox); addText(groups[0], t1, y, fs);
  addIcon(i2, y, sc.highBox); addText(groups[1], t2, y, fs);
});

const SANS = '"Liberation Sans", Arial, sans-serif';
[['A',3,9],['B',353,9],['C',6,505.5],['D',358,701]].forEach(l => addText(l[0], l[1], l[2], 15, {bold: true, family: SANS}));
</script>
</body></html>
